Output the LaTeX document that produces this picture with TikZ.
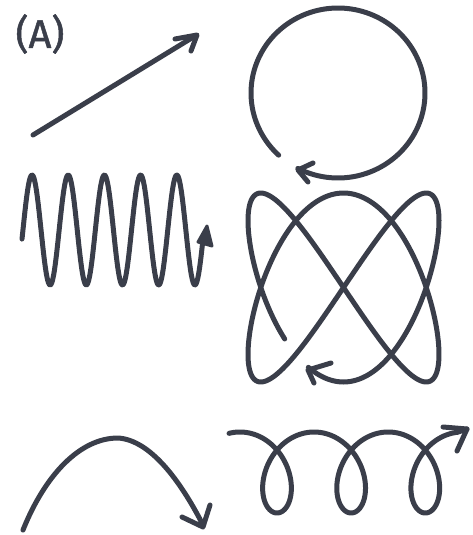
\documentclass[tikz,border=0pt]{standalone}
\usepackage{fontspec}
\setmainfont{Fira Sans}
\definecolor{ink}{RGB}{58,62,74}
\begin{document}
\begin{tikzpicture}[x=1pt,y=-1pt, line cap=round, line join=round,
  stroke/.style={draw=ink, line width=5pt},
  barb/.style={draw=ink, line width=5pt},
  solidtip/.style={draw=ink, fill=ink, line width=3pt}]
\useasboundingbox (0,0) rectangle (472,535);
% label
\node[text=ink, font=\fontsize{40}{40}\selectfont\addfontfeature{FakeBold=1.2}, inner sep=0pt] (lbl) at (40,34) {(A)};
% straight arrow
\draw[stroke] (33,135) -- (195,36);
\draw[barb] (175,39) -- (197,35) -- (191,51);
% circle
\draw[stroke] plot[domain=133:477.5, samples=140, smooth] ({338+87*cos(\x)},{93+85*sin(\x)});
\draw[barb] (313,163) -- (298,170) -- (308,182);
% sine wave
\draw[stroke] plot[domain=22:203, samples=240, smooth] (\x,{230-55*cos(9.945*(\x-32))});
\draw[solidtip] (207,226) -- (198,242) -- (212,246) -- cycle;
% lissajous
\draw[stroke] plot[domain=109:460.8, samples=360, smooth] ({343.5+95.5*sin(2*\x)},{287.5-94.5*sin(3*\x)});
\draw[barb] (331,363) -- (308,370) -- (314,383);
% bottom-left arc
\draw[stroke] (23,530) .. controls (45,475) and (80,438) .. (118,438) .. controls (150,440) and (180,480) .. (203,525);
\draw[barb] (182,517) -- (203,527) -- (210,505);
% loops
\draw[stroke] plot[domain=-3.4:15.6, samples=400, smooth] ({277+11.8*\x-30.6*sin(\x r)},{472.5+40.5*cos(\x r)}) -- (467,429);
\draw[barb] (443,427) -- (467,429) -- (457,451);
\end{tikzpicture}
\end{document}
